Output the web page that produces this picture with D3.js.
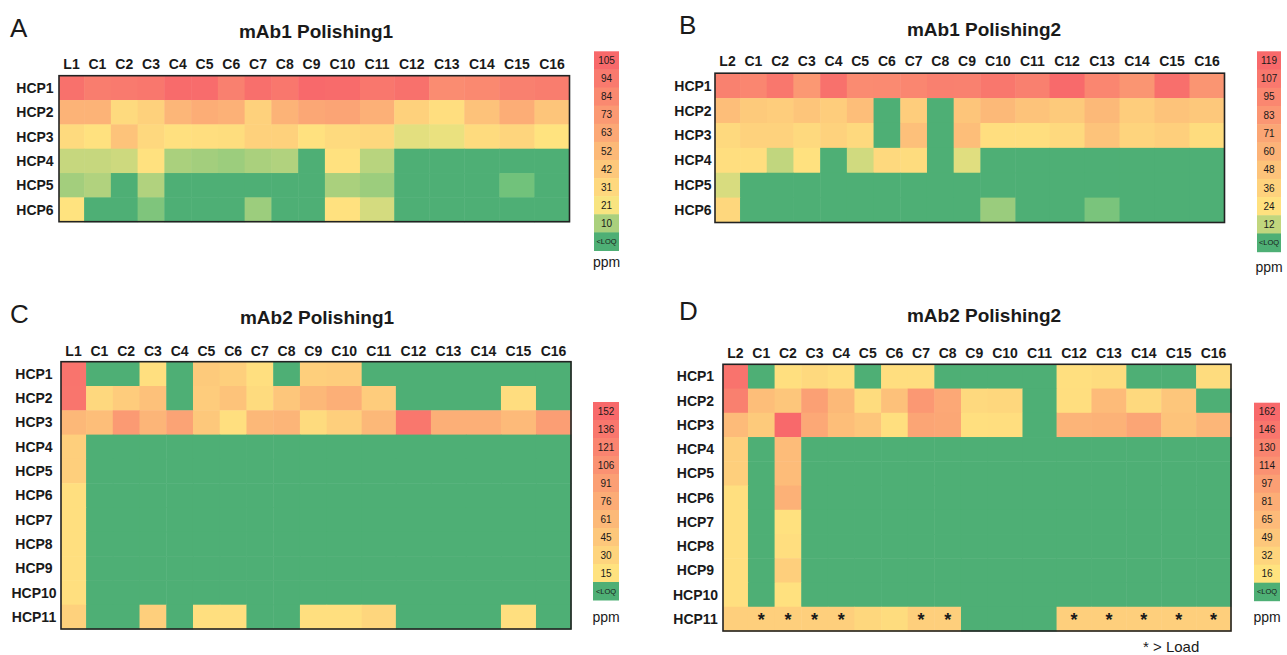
<!DOCTYPE html>
<html><head><meta charset="utf-8">
<script src="https://cdn.jsdelivr.net/npm/d3@7"></script>
<style>
body{margin:0;background:#fff}
text{font-family:"Liberation Sans",Arial,Helvetica,sans-serif;fill:#1a1a1a}
</style>
</head><body>
<svg id="chart" width="1287" height="655"></svg>
<script>
const L = null; // below limit of quantification (<LOQ)

const colsP1 = ["L1","C1","C2","C3","C4","C5","C6","C7","C8","C9","C10","C11","C12","C13","C14","C15","C16"];
const colsP2 = ["L2","C1","C2","C3","C4","C5","C6","C7","C8","C9","C10","C11","C12","C13","C14","C15","C16"];
const rowsMab1 = ["HCP1","HCP2","HCP3","HCP4","HCP5","HCP6"];
const rowsMab2 = ["HCP1","HCP2","HCP3","HCP4","HCP5","HCP6","HCP7","HCP8","HCP9","HCP10","HCP11"];

// ppm values, null = <LOQ
const valuesA = [
  [100, 92, 94, 96,104,103, 90,101, 96,105,104, 96,100, 82, 84, 90, 92],
  [ 56, 56, 30, 36, 54, 60, 57, 36, 56, 64, 66, 58, 36, 27, 46, 60, 44],
  [ 30, 25, 45, 31, 26, 27, 28, 36, 36, 25, 30, 32, 18, 19, 29, 33, 24],
  [ 14, 14, 15, 25, 10,  9,  8, 10, 11,  L, 25, 12,  L,  L,  L,  L,  L],
  [  9, 11,  L, 11,  L,  L,  L,  L,  L,  L, 10,  8,  L,  L,  L,  2,  L],
  [ 24,  L,  L,  4,  L,  L,  L,  8,  L,  L, 25, 16,  L,  L,  L,  L,  L]
];
const valuesB = [
  [100, 96,108, 82,113, 92, 93, 96,101,100,108,101,118, 96, 84,114, 84],
  [ 52, 42, 40, 46, 40, 52,  L, 40,  L, 46, 56, 48, 42, 56, 40, 48, 44],
  [ 30, 36, 36, 30, 36, 30,  L, 50,  L, 52, 26, 26, 30, 48, 34, 38, 28],
  [ 26, 26, 12, 24,  L, 14, 30, 28,  L, 16,  L,  L,  L,  L,  L,  L,  L],
  [ 15,  L,  L,  L,  L,  L,  L,  L,  L,  L,  L,  L,  L,  L,  L,  L,  L],
  [ 32,  L,  L,  L,  L,  L,  L,  L,  L,  L,  7,  L,  L,  3,  L,  L,  L]
];
const valuesC = [
  [140,  L,  L, 18,  L, 42, 36, 18,  L, 36, 38,  L,  L,  L,  L,  L,  L],
  [138, 26, 40, 52,  L, 40, 50, 22, 46, 62, 72, 40,  L,  L,  L, 20,  L],
  [ 62, 56, 96, 66, 86, 44, 18, 62, 66, 22, 36, 62,136, 72, 72, 60, 92],
  [ 36,  L,  L,  L,  L,  L,  L,  L,  L,  L,  L,  L,  L,  L,  L,  L,  L],
  [ 36,  L,  L,  L,  L,  L,  L,  L,  L,  L,  L,  L,  L,  L,  L,  L,  L],
  [ 18,  L,  L,  L,  L,  L,  L,  L,  L,  L,  L,  L,  L,  L,  L,  L,  L],
  [ 18,  L,  L,  L,  L,  L,  L,  L,  L,  L,  L,  L,  L,  L,  L,  L,  L],
  [ 18,  L,  L,  L,  L,  L,  L,  L,  L,  L,  L,  L,  L,  L,  L,  L,  L],
  [ 18,  L,  L,  L,  L,  L,  L,  L,  L,  L,  L,  L,  L,  L,  L,  L,  L],
  [ 18,  L,  L,  L,  L,  L,  L,  L,  L,  L,  L,  L,  L,  L,  L,  L,  L],
  [ 34,  L,  L, 36,  L, 18, 18,  L,  L, 18, 18, 28,  L,  L,  L, 18,  L]
];
const valuesD = [
  [150,  L, 20, 28, 22,  L, 22, 22,  L,  L,  L,  L, 20, 24,  L,  L, 24],
  [135, 60, 50, 96, 66, 24, 56,106, 86, 28, 30,  L, 22, 64, 28, 50,  L],
  [ 64, 46,162, 86, 60, 50, 20, 90, 88, 20, 22,  L, 72, 74, 90, 54, 70],
  [ 40,  L, 62,  L,  L,  L,  L,  L,  L,  L,  L,  L,  L,  L,  L,  L,  L],
  [ 40,  L, 62,  L,  L,  L,  L,  L,  L,  L,  L,  L,  L,  L,  L,  L,  L],
  [ 20,  L, 76,  L,  L,  L,  L,  L,  L,  L,  L,  L,  L,  L,  L,  L,  L],
  [ 20,  L, 18,  L,  L,  L,  L,  L,  L,  L,  L,  L,  L,  L,  L,  L,  L],
  [ 20,  L, 22,  L,  L,  L,  L,  L,  L,  L,  L,  L,  L,  L,  L,  L,  L],
  [ 20,  L, 40,  L,  L,  L,  L,  L,  L,  L,  L,  L,  L,  L,  L,  L,  L],
  [ 20,  L, 18,  L,  L,  L,  L,  L,  L,  L,  L,  L,  L,  L,  L,  L,  L],
  [ 40, 40, 40, 40, 40, 30, 24, 40, 40,  L,  L,  L, 40, 40, 40, 40, 40]
];
// HCP11 columns in panel D above the load amount (*)
const overLoadD = ["C1","C2","C3","C4","C7","C8","C12","C13","C14","C15","C16"];

const legendA = [105, 94, 84, 73, 63, 52, 42, 31, 21, 10];
const legendB = [119, 107, 95, 83, 71, 60, 48, 36, 24, 12];
const legendC = [152, 136, 121, 106, 91, 76, 61, 45, 30, 15];
const legendD = [162, 146, 130, 114, 97, 81, 65, 49, 32, 16];

const titles = ["mAb1 Polishing1", "mAb1 Polishing2", "mAb2 Polishing1", "mAb2 Polishing2"];
const letters = ["A", "B", "C", "D"];

// ---------- layout / style ----------
const LOQ_COLOR = "#4eaf75";
const GREEN = "#63be7b", YELLOW = "#ffe680", RED = "#f8696b";

const panels = [
  {i:0, cols:colsP1, rows:rowsMab1, values:valuesA, legend:legendA, mid:22, lo:0,
   lx:10, ly:37, tx:316, ty:38, gx0:59, gx1:569.5, gy0:75.7, gy1:221.7, clY:68.5, rlX:35,
   legX:594, legW:25, legY0:51.3, legY1:250.5, ppmY:267},
  {i:1, cols:colsP2, rows:rowsMab1, values:valuesB, legend:legendB, mid:20, lo:0,
   lx:679, ly:34, tx:984, ty:36, gx0:715, gx1:1224.5, gy0:73.2, gy1:222.5, clY:66, rlX:693,
   legX:1257, legW:24, legY0:51.3, legY1:251.7, ppmY:272},
  {i:2, cols:colsP1, rows:rowsMab2, values:valuesC, legend:legendC, mid:10, lo:0,
   lx:10, ly:323, tx:317, ty:324, gx0:61, gx1:571, gy0:361.7, gy1:629, clY:355.5, rlX:34,
   legX:593, legW:26, legY0:402, legY1:600, ppmY:622},
  {i:3, cols:colsP2, rows:rowsMab2, values:valuesD, legend:legendD, mid:12, lo:0,
   lx:679, ly:320, tx:984, ty:322, gx0:723, gx1:1231, gy0:364.3, gy1:631, clY:358, rlX:695.5,
   legX:1254, legW:26, legY0:402.7, legY1:600.7, ppmY:622}
];

const svg = d3.select("#chart");

function colLayout(cols, x0, x1) {
  const tmp = svg.append("g").style("font-weight","bold").style("font-size","14px");
  const w = cols.map(c => tmp.append("text").text(c).node().getComputedTextLength() * 1.06 + 7.6);
  tmp.remove();
  const cum = d3.cumsum(w);
  const starts = [0, ...Array.from(cum).slice(0, -1)];
  const x = d3.scaleLinear().domain([0, cum[cum.length - 1]]).range([x0, x1]);
  return {x, starts, w};
}

panels.forEach(p => {
  const g = svg.append("g");
  const color = d3.scaleLinear()
    .domain([p.lo, p.mid, p.legend[0]])
    .range([GREEN, YELLOW, RED])
    .interpolate(d3.interpolateRgb)
    .clamp(true);

  // letter & title
  g.append("text").attr("x", p.lx).attr("y", p.ly).style("font-size","26px").text(letters[p.i]);
  g.append("text").attr("x", p.tx).attr("y", p.ty).attr("text-anchor","middle")
    .style("font-size","19px").style("font-weight","bold").text(titles[p.i]);

  const cl = colLayout(p.cols, p.gx0, p.gx1);
  const y = d3.scaleBand().domain(p.rows).range([p.gy0, p.gy1]);

  const cells = [];
  p.values.forEach((row, ri) => row.forEach((v, ci) => cells.push({r: p.rows[ri], ci, v})));

  g.append("g").selectAll("rect").data(cells).join("rect")
    .attr("x", d => cl.x(cl.starts[d.ci]))
    .attr("width", d => cl.x(cl.starts[d.ci] + cl.w[d.ci]) - cl.x(cl.starts[d.ci]) + 0.5)
    .attr("y", d => y(d.r))
    .attr("height", y.bandwidth() + 0.5)
    .attr("fill", d => d.v === null ? LOQ_COLOR : color(d.v));

  // border
  g.append("rect").attr("x", p.gx0).attr("y", p.gy0)
    .attr("width", p.gx1 - p.gx0).attr("height", p.gy1 - p.gy0)
    .attr("fill","none").attr("stroke","#222").attr("stroke-width",1.6);

  // column labels
  g.append("g").selectAll("text").data(p.cols).join("text")
    .attr("x", (c, i) => cl.x(cl.starts[i] + cl.w[i] / 2))
    .attr("y", p.clY).attr("text-anchor","middle")
    .style("font-size","14px").style("font-weight","bold").text(c => c);

  // row labels
  g.append("g").selectAll("text").data(p.rows).join("text")
    .attr("x", p.rlX).attr("y", r => y(r) + y.bandwidth() / 2)
    .attr("dy","0.36em").attr("text-anchor","middle")
    .style("font-size","14px").style("font-weight","bold").text(r => r);

  // legend
  const legItems = [...p.legend.map(String), "<LOQ"];
  const ly = d3.scaleBand().domain(legItems).range([p.legY0, p.legY1]);
  const lg = g.append("g");
  lg.selectAll("rect").data(legItems).join("rect")
    .attr("x", p.legX).attr("width", p.legW)
    .attr("y", d => ly(d)).attr("height", ly.bandwidth() + 0.5)
    .attr("fill", d => d === "<LOQ" ? LOQ_COLOR : color(+d));
  lg.selectAll("text").data(legItems).join("text")
    .attr("x", p.legX + p.legW / 2).attr("y", d => ly(d) + ly.bandwidth() / 2)
    .attr("dy","0.36em").attr("text-anchor","middle")
    .style("font-size", d => d === "<LOQ" ? "7.5px" : "10px")
    .text(d => d);
  g.append("text").attr("x", p.legX + p.legW / 2).attr("y", p.ppmY).attr("text-anchor","middle")
    .style("font-size","14px").text("ppm");

  // > Load markers (panel D)
  if (p.i === 3) {
    const ri = p.rows.indexOf("HCP11");
    g.append("g").selectAll("text").data(overLoadD).join("text")
      .attr("x", c => { const i = p.cols.indexOf(c); return cl.x(cl.starts[i] + cl.w[i] / 2); })
      .attr("y", y(p.rows[ri]) + y.bandwidth() / 2 + 7)
      .attr("text-anchor","middle").style("font-size","18px").style("font-weight","bold").text("*");
    g.append("text").attr("x", 1143).attr("y", 652).style("font-size","15px").text("* > Load");
  }
});
</script>
</body></html>
